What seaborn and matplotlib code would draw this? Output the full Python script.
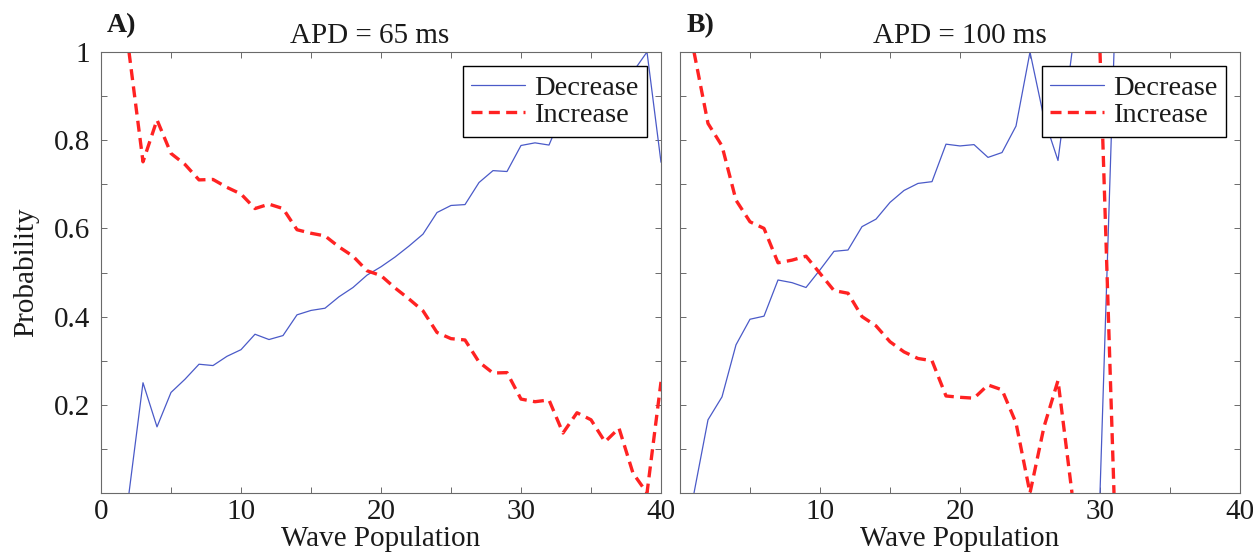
import numpy as np
import pandas as pd
import matplotlib
matplotlib.use("Agg")
import matplotlib.pyplot as plt
from matplotlib.lines import Line2D
import seaborn as sns

# valores
pop_65 = list(range(2, 41))
dec_65 = [0.0, 0.25, 0.15, 0.228, 0.258, 0.292, 0.289, 0.31, 0.325, 0.36,
          0.348, 0.357, 0.404, 0.414, 0.419, 0.445, 0.466, 0.494, 0.513, 0.535,
          0.56, 0.587, 0.636, 0.652, 0.654, 0.704, 0.731, 0.729, 0.788, 0.794,
          0.789, 0.864, 0.818, 0.834, 0.884, 0.853, 0.955, 1.0, 0.75]
inc_65 = [1.0, 0.751, 0.846, 0.770, 0.745, 0.710, 0.711, 0.693, 0.678, 0.645,
          0.655, 0.645, 0.597, 0.589, 0.583, 0.558, 0.537, 0.504, 0.493, 0.465,
          0.44, 0.413, 0.364, 0.35, 0.347, 0.297, 0.272, 0.273, 0.213, 0.207,
          0.211, 0.136, 0.182, 0.166, 0.116, 0.147, 0.045, 0.0, 0.252]

pop_100 = list(range(1, 32))
dec_100 = [0.0, 0.166, 0.218, 0.336, 0.394, 0.401, 0.483, 0.477, 0.466, 0.506,
           0.548, 0.551, 0.604, 0.621, 0.659, 0.686, 0.702, 0.706, 0.791, 0.787,
           0.79, 0.761, 0.772, 0.832, 1.0, 0.85, 0.754, 1.0, np.nan, 0.0, 1.0]
inc_100 = [1.0, 0.838, 0.787, 0.664, 0.615, 0.60, 0.522, 0.528, 0.537, 0.498,
           0.459, 0.453, 0.40, 0.379, 0.343, 0.32, 0.305, 0.30, 0.22, 0.217,
           0.215, 0.245, 0.234, 0.159, 0.0, 0.15, 0.255, 0.0, np.nan, 1.0, 0.0]

titulos = ["APD = 65 ms", "APD = 100 ms"]
letras = ["A)", "B)"]
xtick_vals = list(range(0, 41, 5))
xtick_lbls = [["0", "", "10", "", "20", "", "30", "", "40"],
              ["", "", "10", "", "20", "", "30", "", "40"]]
ytick_vals = [round(0.1 * i, 1) for i in range(11)]
ytick_lbls = ["", "", "0.2", "", "0.4", "", "0.6", "", "0.8", "", "1"]

AZUL = "#4a5ac8"
ROJO = "#ff2222"
GRIS = "#6a6a6a"

sns.set_style("ticks")
plt.rcParams["font.family"] = ["Liberation Serif", "DejaVu Serif"]
plt.rcParams["xtick.direction"] = "in"
plt.rcParams["ytick.direction"] = "in"


def tabla(x, y):
    # segmentos separados por NaN para que seaborn no una los huecos
    y = np.asarray(y, dtype=float)
    seg = np.cumsum(np.isnan(y))
    return pd.DataFrame({"pop": x, "prob": y, "seg": seg})


fig = plt.figure(figsize=(12.53, 5.56), dpi=100)
ax1 = fig.add_axes([101 / 1253, 63 / 556, 560 / 1253, 441 / 556])
ax2 = fig.add_axes([680 / 1253, 63 / 556, 560 / 1253, 441 / 556])

datos = [(pop_65, dec_65, inc_65), (pop_100, dec_100, inc_100)]
titulo_x = [0.479, 0.5]

for i, ax in enumerate([ax1, ax2]):
    x, dec, inc = datos[i]
    sns.lineplot(data=tabla(x, dec), x="pop", y="prob", units="seg",
                 estimator=None, color=AZUL, lw=0.9, ax=ax)
    sns.lineplot(data=tabla(x, inc), x="pop", y="prob", units="seg",
                 estimator=None, color=ROJO, lw=2.4,
                 linestyle=(0, (3.3, 1.9)), ax=ax)

    ax.set_xlim(0, 40)
    ax.set_ylim(0, 1)
    ax.set_xticks(xtick_vals)
    ax.set_xticklabels(xtick_lbls[i])
    ax.set_yticks(ytick_vals)
    if i == 0:
        ax.set_yticklabels(ytick_lbls)
    else:
        ax.set_yticklabels([])
    ax.tick_params(axis="both", which="both", top=True, right=True,
                   length=4.5, width=0.7, color=GRIS, labelsize=21,
                   labelcolor="#1a1a1a")
    ax.tick_params(axis="x", pad=4)
    ax.tick_params(axis="y", pad=8)
    for sp in ax.spines.values():
        sp.set_visible(True)
        sp.set_color(GRIS)
        sp.set_linewidth(0.8)

    ax.set_xlabel("Wave Population", fontsize=21, color="#1a1a1a", labelpad=1)
    if i == 0:
        ax.set_ylabel("Probability", fontsize=21, color="#1a1a1a", labelpad=10)
    else:
        ax.set_ylabel("")
    ax.set_title(titulos[i], fontsize=21, color="#1a1a1a", pad=6.5,
                 x=titulo_x[i])
    ax.text(0.011, 1.045, letras[i], transform=ax.transAxes, fontsize=20,
            fontweight="bold", va="baseline", ha="left", color="#1a1a1a")

    handles = [Line2D([], [], color=AZUL, lw=0.9),
               Line2D([], [], color=ROJO, lw=2.4, linestyle=(0, (3.3, 1.9)))]
    leg = ax.legend(handles, ["Decrease", "Increase"], loc="upper right",
                    fontsize=20.5, frameon=True, fancybox=False, framealpha=1,
                    edgecolor="black", borderpad=0.3, labelspacing=0.05,
                    handlelength=1.9, handletextpad=0.3, borderaxespad=0.5)
    leg.get_frame().set_linewidth(1.0)
    for t in leg.get_texts():
        t.set_color("#1a1a1a")

fig.savefig("out.png", dpi=100)
